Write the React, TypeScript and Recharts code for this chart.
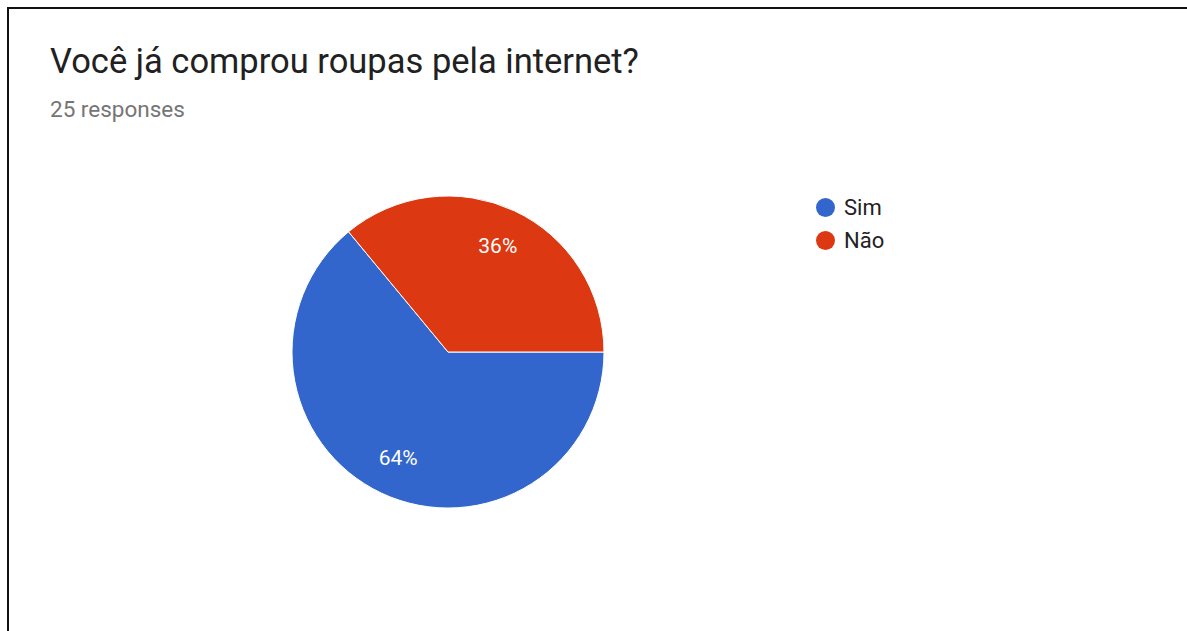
import React from 'react';
import { PieChart, Pie, Cell } from 'recharts';

const answers = ['Sim', 'Não'];
const counts = [16, 9];
const colors = ['#3366cc', '#dc3912'];

const data = answers.map((name, i) => ({ name, value: counts[i] }));

const RADIAN = Math.PI / 180;

function renderLabel(props: any) {
  const { cx, cy, midAngle, outerRadius, percent } = props;
  const r = outerRadius * 0.75;
  const x = cx + r * Math.cos(-midAngle * RADIAN);
  const y = cy + r * Math.sin(-midAngle * RADIAN);
  return (
    <text
      x={x}
      y={y}
      fill="#ffffff"
      textAnchor="middle"
      dominantBaseline="central"
      style={{ fontFamily: 'Roboto, Arial, sans-serif', fontSize: 21 }}
    >
      {`${Math.round(percent * 100)}%`}
    </text>
  );
}

function LegendList() {
  return (
    <div style={{ fontFamily: 'Roboto, Arial, sans-serif', fontSize: 22, color: '#222' }}>
      {answers.map((name, i) => (
        <div key={name} style={{ display: 'flex', alignItems: 'center', height: 33 }}>
          <span
            style={{
              width: 19,
              height: 19,
              borderRadius: '50%',
              background: colors[i],
              display: 'inline-block',
              marginRight: 9,
            }}
          />
          {name}
        </div>
      ))}
    </div>
  );
}

export default function App() {
  return (
    <div
      style={{
        position: 'fixed',
        top: 0,
        left: 0,
        width: 1187,
        height: 631,
        background: '#fff',
        overflow: 'hidden',
      }}
    >
      <div
        style={{
          position: 'absolute',
          left: 7,
          top: 7,
          width: 1200,
          height: 640,
          borderLeft: '2px solid #111',
          borderTop: '2px solid #111',
        }}
      />
      <div
        style={{
          position: 'absolute',
          left: 50,
          top: 41,
          fontFamily: 'Roboto, Arial, sans-serif',
          fontSize: 34.5,
          color: '#212121',
          whiteSpace: 'nowrap',
        }}
      >
        Você já comprou roupas pela internet?
      </div>
      <div
        style={{
          position: 'absolute',
          left: 50,
          top: 96,
          fontFamily: 'Roboto, Arial, sans-serif',
          fontSize: 22.5,
          color: '#757575',
        }}
      >
        25 responses
      </div>
      <div style={{ position: 'absolute', left: 0, top: 0 }}>
        <PieChart width={1187} height={631} margin={{ top: 0, right: 0, bottom: 0, left: 0 }}>
          <Pie
            data={data}
            dataKey="value"
            nameKey="name"
            cx={448}
            cy={352}
            outerRadius={156}
            startAngle={0}
            endAngle={-360}
            stroke="#ffffff"
            strokeWidth={1}
            labelLine={false}
            label={renderLabel}
            isAnimationActive={false}
          >
            {data.map((d, i) => (
              <Cell key={d.name} fill={colors[i]} />
            ))}
          </Pie>
        </PieChart>
      </div>
      <div style={{ position: 'absolute', left: 816, top: 191 }}>
        <LegendList />
      </div>
    </div>
  );
}
